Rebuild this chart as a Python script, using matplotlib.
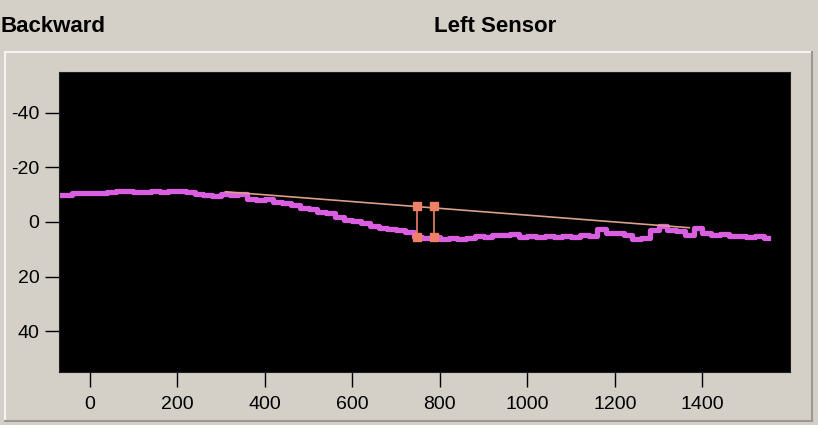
import matplotlib
matplotlib.use("Agg")
import matplotlib.pyplot as plt
from matplotlib.lines import Line2D

# Profil du capteur gauche (position en x, ecart en y)
pos_x = [-70, -50, -30, -10, 10, 30, 50, 70, 90, 110, 130, 150, 170, 190, 210, 230,
         250, 270, 290, 310, 330, 350, 370, 390, 410, 430, 450, 470, 490, 510, 530,
         550, 570, 590, 610, 630, 650, 670, 690, 710, 730, 750, 770, 790, 810, 830,
         850, 870, 890, 910, 930, 950, 970, 990, 1010, 1030, 1050, 1070, 1090, 1110,
         1130, 1150, 1170, 1190, 1210, 1230, 1250, 1270, 1290, 1310, 1330, 1350, 1370,
         1390, 1410, 1430, 1450, 1470, 1490, 1510, 1530, 1550]
pos_y = [-9.8, -9.8, -10.8, -10.6, -10.8, -10.5, -10.9, -11.4, -11.2, -10.9, -11.1,
         -11.4, -11.0, -11.5, -11.2, -10.9, -10.2, -10.0, -9.6, -10.3, -10.0, -10.2,
         -8.6, -8.0, -8.3, -7.2, -7.0, -6.3, -5.2, -4.6, -3.8, -3.2, -2.0, -0.8, -0.4,
         0.3, 1.5, 2.1, 2.4, 3.1, 3.6, 5.4, 5.8, 5.6, 6.2, 5.8, 6.4, 5.9, 5.2, 5.6, 4.6,
         4.8, 4.3, 5.4, 5.1, 5.4, 5.0, 5.6, 5.2, 5.4, 4.9, 5.3, 2.6, 4.2, 4.0, 4.6, 6.2,
         6.0, 3.0, 1.6, 2.8, 3.4, 4.6, 2.2, 4.2, 4.6, 4.4, 5.2, 5.0, 5.6, 5.2, 6.0]

# Ligne de reference
base_x = [310, 1370]
base_y = [-11.1, 2.1]

# Mesures (verticales)
mes_x = [747, 787]
mes_haut = [-6.0, -6.0]
mes_bas = [5.4, 5.4]

xticks = [0, 200, 400, 600, 800, 1000, 1200, 1400]
yticks = [-40, -20, 0, 20, 40]

plt.rcParams['axes.unicode_minus'] = False
police = ['Liberation Sans Narrow', 'Liberation Sans', 'DejaVu Sans']

fig = plt.figure(figsize=(8.18, 4.25), dpi=100, facecolor='#D4D0C8')

# cadre du panneau
fig.add_artist(Line2D([5/818, 5/818], [1-52/425, 1-421/425], color='#F6F4F0', lw=1.5))
fig.add_artist(Line2D([5/818, 812/818], [1-52/425, 1-52/425], color='#F6F4F0', lw=1.5))
fig.add_artist(Line2D([5/818, 812/818], [1-421/425, 1-421/425], color='#9A9890', lw=1.5))
fig.add_artist(Line2D([812/818, 812/818], [1-52/425, 1-421/425], color='#9A9890', lw=1.5))

ax = fig.add_axes([59/818, 53/425, 731/818, 300/425])
ax.set_facecolor('black')

ax.step(pos_x, pos_y, where='mid', color='#DA5FE0', lw=3.8)
ax.plot(base_x, base_y, color='#D9A08A', lw=1.2)
for i in range(len(mes_x)):
    ax.plot([mes_x[i], mes_x[i]], [mes_haut[i], mes_bas[i]], color='#EE8068',
            lw=1.2, marker='s', ms=6)

ax.set_xlim(-70, 1600)
ax.set_ylim(55, -55)
ax.set_xticks(xticks)
ax.set_yticks(yticks)
ax.set_xticklabels([str(v) for v in xticks], family=police, fontsize=14)
ax.set_yticklabels([str(v) for v in yticks], family=police, fontsize=14)
ax.tick_params(axis='x', direction='out', length=11, width=1, color='black', pad=6)
ax.tick_params(axis='y', direction='out', length=10, width=1, color='black', pad=4)
for s in ax.spines.values():
    s.set_color('#202020')

fig.text(0.0, 1-27/425, "Backward", family=police, fontsize=16, fontweight='bold',
         ha='left', va='center')
fig.text(495/818, 1-27/425, "Left Sensor", family=police, fontsize=16, fontweight='bold',
         ha='center', va='center')

fig.savefig("out.png", dpi=100, facecolor=fig.get_facecolor())
